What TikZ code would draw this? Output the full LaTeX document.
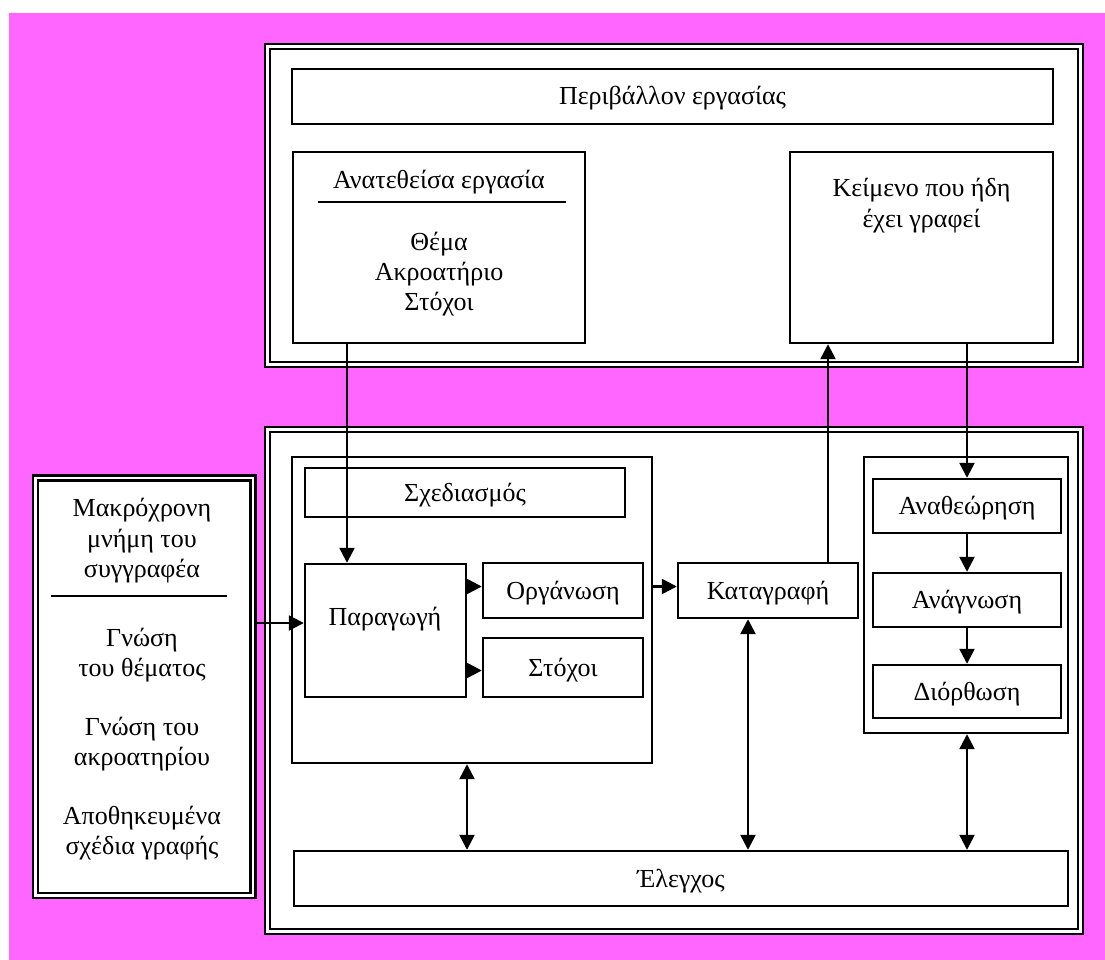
\documentclass[tikz,border=0pt]{standalone}
\usepackage{fontspec}
\setmainfont{Liberation Serif}
\usetikzlibrary{arrows.meta}
\definecolor{pagebg}{RGB}{255,102,255}

\begin{document}
\begin{tikzpicture}[x=1pt,y=-1pt,line width=2.4pt,
  txt/.style={font=\fontsize{26}{31}\selectfont,text height=17pt,text depth=0pt,inner sep=0pt,align=center},
  box/.style={draw,fill=white,rectangle,inner sep=0pt,txt},
  frame/.style={draw,double=white,double distance=2.6pt,fill=white,rectangle,inner sep=0pt},
  arr/.style={-{Triangle[length=15pt,width=15pt]}},
  darr/.style={{Triangle[length=15pt,width=15pt]}-{Triangle[length=15pt,width=15pt]}}]

% page
\useasboundingbox (0,0) rectangle (1105,960);
\fill[white] (0,0) rectangle (1105,960);
\fill[pagebg] (9,13) rectangle (1105,960);

% outer double frames
\node[frame,minimum width=813pt,minimum height=318pt] (env) at (674,205.5) {};
\node[frame,minimum width=813pt,minimum height=502pt] (proc) at (674,680.5) {};
\node[frame,minimum width=217.5pt,minimum height=417.5pt] (mem) at (144.25,686.75) {};

% task environment
\node[box,minimum width=761pt,minimum height=55pt] (envtitle) at (672.5,96.5) {Περιβάλλον εργασίας};
\node[box,minimum width=292pt,minimum height=191pt] (task) at (439,247.5) {};
\node[txt] (tasktitle) at (439,180) {Ανατεθείσα εργασία};
\draw (task.west |- 0,202) ++(26,0) coordinate (tl1) -- ++(248,0) coordinate (tl2);
\node[txt] (t1) at (439,242) {Θέμα};
\node[txt] (t2) at (439,272) {Ακροατήριο};
\node[txt] (t3) at (439,302) {Στόχοι};
\node[box,minimum width=263pt,minimum height=191pt] (written) at (921.5,247.5) {};
\node[txt] (w1) at (921.5,188) {Κείμενο που ήδη};
\node[txt] (w2) at (921.5,219) {έχει γραφεί};

% writing processes
\node[box,minimum width=360pt,minimum height=306pt] (plan) at (472,610) {};
\node[box,minimum width=320pt,minimum height=49pt] (design) at (465,492.5) {Σχεδιασμός};
\node[box,minimum width=161pt,minimum height=133pt] (produce) at (385.5,630.5) {};
\node[txt] (producetxt) at (385,617) {Παραγωγή};
\node[box,minimum width=160pt,minimum height=55pt] (organize) at (563,590.5) {Οργάνωση};
\node[box,minimum width=160pt,minimum height=59pt] (goals) at (563,667.5) {Στόχοι};
\node[box,minimum width=180pt,minimum height=55pt] (record) at (768,590.5) {Καταγραφή};
\node[box,minimum width=204pt,minimum height=276pt] (review) at (966,595) {};
\node[box,minimum width=188pt,minimum height=54pt] (revise) at (967,506) {Αναθεώρηση};
\node[box,minimum width=188pt,minimum height=54pt] (read) at (967,600) {Ανάγνωση};
\node[box,minimum width=188pt,minimum height=53pt] (correct) at (967,691.5) {Διόρθωση};
\node[box,minimum width=774pt,minimum height=55pt] (control) at (681,878.5) {Έλεγχος};

% long-term memory
\node[txt] (m1) at (142,508) {Μακρόχρονη};
\node[txt] (m2) at (142,539) {μνήμη του};
\node[txt] (m3) at (142,569) {συγγραφέα};
\draw (mem.west |- 0,596) ++(17,0) -- ++(176,0);
\node[txt] (m4) at (142,638) {Γνώση};
\node[txt] (m5) at (142,668) {του θέματος};
\node[txt] (m6) at (142,727) {Γνώση του};
\node[txt] (m7) at (142,757) {ακροατηρίου};
\node[txt] (m8) at (142,816) {Αποθηκευμένα};
\node[txt] (m9) at (142,846) {σχέδια γραφής};

% connectors
\draw[arr] ([xshift=-92pt]task.south) -- ([xshift=-92pt]task.south |- produce.north);
\draw[arr] ([xshift=60pt]record.north) -- ([xshift=60pt]record.north |- written.south);
\draw[arr] (written.south -| revise.north) -- (revise.north);
\draw[arr] (revise) -- (read);
\draw[arr] (read) -- (correct);
\draw[arr] ([yshift=4pt]organize.west -| produce.east) -- ([yshift=4pt]organize.west);
\draw[arr] ([yshift=-3pt]goals.west -| produce.east) -- ([yshift=-3pt]goals.west);
\draw[arr] ([yshift=4pt]record.west -| plan.east) -- ([yshift=4pt]record.west);
\draw[arr] ([yshift=7.5pt]produce.west -| mem.east) -- ([yshift=7.5pt]produce.west);
\draw[darr] ([xshift=-5pt]plan.south) -- ([xshift=-5pt]plan.south |- control.north);
\draw[darr] ([xshift=-20pt]record.south) -- ([xshift=-20pt]record.south |- control.north);
\draw[darr] ([xshift=1pt]review.south) -- ([xshift=1pt]review.south |- control.north);
\end{tikzpicture}
\end{document}
